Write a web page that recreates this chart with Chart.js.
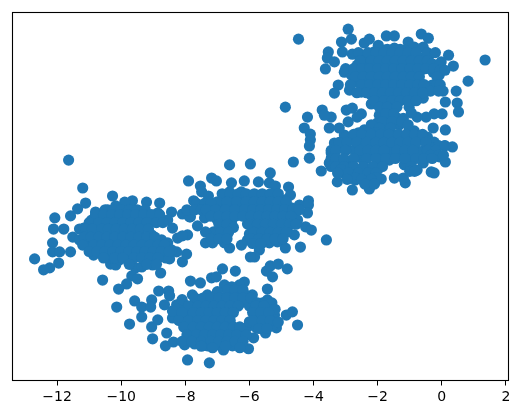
<!DOCTYPE html>
<html>
<head>
<meta charset="utf-8">
<style>html,body{margin:0;padding:0;background:#fff}canvas{display:block}</style>
<script src="https://cdn.jsdelivr.net/npm/chart.js@4"></script>
</head>
<body>
<canvas id="c" width="525" height="418"></canvas>
<script>
const xTicks = [-12,-10,-8,-6,-4,-2,0,2];
const clusterLeft = [[-11.64,1.15],[-11.2,.28],[-10.27,.03],[-11.11,-.19],[-11.36,-.37],[-11.58,-.59],[-12.07,-.65],[-11.79,-1],[-12.11,-1],[-12.14,-1.43],[-12.14,-1.71],[-11.92,-1.71],[-11.95,-2.06],[-12.7,-1.93],[-12.23,-2.21],[-12.42,-2.27],[-11.58,-1.71],[-11.51,-1.25],[-11.3,-1],[-10.8,-.47],[-9.65,-.12],[-9.89,-.16],[-9.21,-.16],[-8.8,-.19],[-8.43,-.47],[-8.09,-.53],[-7.84,-.62],[-10.86,-1.81],[-10.33,-2.09],[-10.17,-2.12],[-9.83,-1.9],[-9.02,-2.12],[-9.55,-2.21],[-9.36,-2.18],[-9.67,-2.46],[-9.49,-2.55],[-9.83,-2.71],[-10.08,-2.87],[-10.58,-2.59],[-8.77,-2.37],[-8.49,-1.93],[-8.09,-2.02],[-7.96,-1.78],[-8.27,-1.71],[-8.24,-1.28],[-8.4,-.97],[-7.93,-1.18],[-8.09,-1.21],
[-10.92,-.72],[-10.67,-.56],[-10.42,-.4],[-10.17,-.28],[-9.92,-.47],[-9.67,-.4],[-9.43,-.47],[-10.8,-.97],[-10.55,-.87],[-10.3,-.72],[-10.05,-.78],[-9.8,-.72],[-9.55,-.78],[-9.3,-.9],[-11.05,-1.18],[-10.8,-1.28],[-10.55,-1.18],[-10.3,-1.09],[-10.05,-1.09],[-9.8,-1.09],[-9.55,-1.09],[-10.98,-1.5],[-10.73,-1.56],[-10.49,-1.5],[-10.24,-1.4],[-9.99,-1.4],[-9.74,-1.4],[-9.49,-1.34],[-9.24,-1.28],[-9.05,-1.18],[-10.67,-1.74],[-10.42,-1.71],[-10.17,-1.71],[-9.92,-1.59],[-9.67,-1.65],[-9.43,-1.59],[-9.18,-1.53],[-8.93,-1.46],[-8.74,-1.34],[-10.3,-1.9],[-10.05,-1.96],[-9.74,-1.9],[-9.49,-1.84],[-9.24,-1.81],[-8.99,-1.71],[-8.8,-1.65],[-8.61,-1.9],[-8.96,-.78],[-8.86,-.5],[-9.11,-.59],[-8.55,-.72],[-8.55,-1.43],[-8.43,-1.65],[-11.3,-1.34],[-11.17,-.97]];
const clusterMiddle = [[-7.9,.5],[-6.62,1],[-5.97,1.03],[-7.18,.59],[-7.03,.5],[-7.53,.34],[-7.49,.16],[-7.28,.03],[-7.74,-.12],[-6.56,.44],[-6.16,.5],[-5.72,.47],[-5.38,.44],[-5.19,.34],[-5.35,.75],[-4.78,.31],[-4.72,.06],[-4.16,-.12],[-4.44,-.25],[-4.16,-.25],[-4.19,-.5],[-4.63,-.56],[-4.25,-.93],[-4.07,-1.03],[-3.6,-1.34],[-4.6,-1.18],[-4.82,-1],[-4.41,-1.56],[-4.88,-1.59],[-5.13,-1.4],[-5.59,-1.43],[-5.69,-1.65],[-5.84,-1.87],[-5.97,-1.87],[-6.62,-1.59],[-6.25,-1.5],[-7.15,-1.43],[-7.37,-1.43],[-7.62,-.9],[-7.87,-.62],[-6.62,.16],[-6.25,.16],
[-7.09,-.25],[-6.78,-.09],[-6.47,-.03],[-6.16,-.03],[-5.84,.03],[-5.53,.03],[-5.22,.03],[-4.91,-.09],[-7.18,-.5],[-6.87,-.4],[-6.56,-.31],[-6.25,-.25],[-5.63,-.25],[-5.32,-.25],[-5,-.34],[-4.69,-.34],[-7.4,-.65],[-7,-.72],[-6.69,-.65],[-6.37,-.56],[-6.06,-.53],[-5.75,-.53],[-5.44,-.53],[-5.13,-.59],[-4.82,-.65],[-4.5,-.72],[-6.78,-.97],[-6.56,-.78],[-6.06,-.84],[-5.75,-.84],[-5.44,-.84],[-5.13,-.9],[-6.87,-1.21],[-7.12,-1.09],[-7.37,-1.09],[-6,-1.15],[-5.69,-1.15],[-5.38,-1.15],[-5.07,-1.09],[-6.06,-1.34],[-6.78,-1.43],[-5.38,-1.43],[-4.75,-.78]];
const clusterBottom = [[-6.84,-2.24],[-6.44,-2.31],[-5.47,-2.31],[-5.35,-2.15],[-5.1,-2.09],[-4.82,-2.24],[-5.28,-2.49],[-7.84,-2.62],[-7.53,-2.68],[-7.18,-2.52],[-7.03,-2.49],[-6.78,-2.74],[-6.16,-2.65],[-6.31,-2.74],[-5.44,-2.87],[-5.91,-3.05],[-8.83,-2.93],[-8.52,-2.93],[-8.49,-3.08],[-9.05,-3.21],[-9.58,-3.24],[-10.14,-3.43],[-9.36,-3.43],[-9.08,-3.43],[-9.36,-3.74],[-9.74,-3.96],[-8.86,-3.83],[-9.05,-4.05],[-9.02,-4.42],[-8.58,-4.24],[-8.62,-4.64],[-8.37,-4.52],[-7.93,-5.08],[-7.25,-5.17],[-6.81,-4.77],[-6.53,-4.64],[-6.03,-4.73],[-5.87,-4.39],[-5.5,-4.24],[-5.16,-4.08],[-5.28,-3.99],[-4.5,-3.99],[-4.85,-3.68],[-4.66,-3.58],[-5.44,-3.21],[-5.59,-3.3],[-8.27,-3.36],[-8.65,-3.36],[-7.78,-3.05],[-7.31,-3.05],[-8.4,-3.77],[-8.02,-4.61],[-7.71,-4.58],[-7.31,-4.64],[-7.03,-4.61],[-6.25,-4.39],[-6.06,-4.05],[-5.78,-4.08],
[-8.02,-3.36],[-7.71,-3.3],[-7.4,-3.27],[-7.09,-3.21],[-6.78,-3.15],[-6.47,-3.08],[-6.16,-3.02],[-8.18,-3.68],[-7.87,-3.61],[-7.56,-3.58],[-7.25,-3.52],[-6.93,-3.46],[-6.62,-3.4],[-6.31,-3.33],[-6,-3.4],[-8.02,-3.99],[-7.71,-3.89],[-7.4,-3.83],[-7.09,-3.77],[-6.78,-3.71],[-6.62,-3.64],[-7.87,-4.24],[-7.56,-4.21],[-7.25,-4.08],[-6.93,-4.02],[-6.62,-3.96],[-6.31,-4.14],[-7.62,-4.45],[-7.31,-4.39],[-7,-4.33],[-6.69,-4.27],[-6.44,-4.21],[-6.93,-4.52],[-6.62,-4.52],[-5.84,-3.52],[-5.63,-3.68],[-5.44,-3.52],[-5.22,-3.68],[-6,-3.89],[-5.75,-3.83]];
const clusterTop = [[-4.47,4.92],[-2.92,5.23],[-3.13,4.83],[-2.82,4.92],[-3.54,4.52],[-3.57,4.33],[-3.35,4.21],[-3.63,3.99],[-3.1,4.52],[-2.79,4.45],[-2.42,4.8],[-2.26,4.92],[-1.98,4.73],[-1.73,5.02],[-1.48,5.02],[-1.05,4.83],[-.64,5.08],[-.42,4.95],[-.86,4.67],[-.58,4.67],[-.64,4.33],[.21,4.42],[-.02,4.21],[.36,4.08],[1.35,4.27],[.82,3.61],[.45,3.3],[.04,3.3],[-.3,3.49],[-.08,3.8],[-.58,3.08],[-1.02,2.8],[.48,2.93],[.11,2.96],[.52,2.65],[.01,2.59],[-.24,2.59],[-.49,2.49],[-.77,2.49],[-.95,2.62],[-.27,2.15],[.11,2.09],[-.45,1.87],[-.24,1.71],[.08,1.59],[.33,1.56],[-.08,1.25],[.11,1.09],[-.58,1.06],[-.77,.84],[-.33,.78],[-.24,.75],[-1.14,.44],[-1.2,.59],[-1.48,.59],[-1.89,.56],[-2.26,.25],[-2.79,.22],[-3.26,.47],[-2.51,.59],[-3.07,.75],[-3.76,.81],[-3.51,1.06],[-3.45,1.37],[-3.35,1.68],[-3.51,2.15],[-3.45,2.49],[-3.73,2.71],[-3.66,2.55],[-2.98,2.71],[-2.79,2.77],[-2.51,2.59],[-2.64,2.49],[-2.92,2.34],[-2.01,2.31],[-4.19,2.49],[-4.29,2.15],[-4.1,1.96],[-4.1,1.78],[-4.13,1.59],[-4.13,1.21],[-4.63,1.09],[-4.88,2.8],[-2.2,2.9],[-3.23,3.49],[-3.35,3.24],[-2.88,3.33],[-3.04,3.89],[-1.39,2.46],[-1.64,2.55],[-.86,2.06],
[-2.42,4.42],[-2.11,4.52],[-1.79,4.58],[-1.48,4.64],[-1.17,4.58],[-.86,4.42],[-.39,4.42],[-2.64,4.11],[-2.32,4.21],[-2.01,4.27],[-1.7,4.27],[-1.39,4.27],[-1.08,4.27],[-.77,4.11],[-.45,4.02],[-2.82,3.8],[-2.2,3.89],[-1.89,3.71],[-1.58,3.89],[-1.26,3.96],[-.95,3.89],[-.64,3.96],[-.27,3.89],[-2.64,3.58],[-2.32,3.49],[-2.01,3.4],[-1.7,3.49],[-1.39,3.58],[-1.08,3.49],[-.77,3.49],[-.45,3.4],[-2.51,3.27],[-2.2,3.18],[-1.89,3.08],[-1.58,3.18],[-1.26,3.18],[-.95,3.18],[-1.79,2.77],[-1.64,2.96],[-1.95,2.55],[-1.64,2.24],[-1.48,1.93],
[-3.04,1.93],[-2.73,1.78],[-2.42,2.09],[-2.11,1.93],[-1.79,2.09],[-1.33,2.24],[-1.02,2.09],[-.7,1.78],[-3.04,1.53],[-2.73,1.46],[-2.42,1.62],[-2.11,1.62],[-1.79,1.62],[-1.48,1.71],[-1.17,1.71],[-.86,1.53],[-.55,1.46],[-3.13,1.15],[-2.82,1.09],[-2.51,1.21],[-2.2,1.31],[-1.89,1.21],[-1.58,1.4],[-1.26,1.31],[-.95,1.21],[-.7,1.4],[-.33,1.53],[-2.88,.78],[-2.57,.84],[-2.26,.84],[-1.95,.9],[-1.64,1.15],[-1.17,1],[-2.7,.53],[-2.32,.53],[-3.2,2.15]];
// Dense centres, one row per entry: the row's y, then the x of each point in it.
const coreLeft = [
[-.4,-10.5,-10.25,-10,-9.75,-9.5,-9.25],
[-.55,-10.8,-10.55,-10.3,-10.05,-9.8,-9.55,-9.3,-9.05,-8.8],
[-.8,-11,-10.7,-10.45,-10.2,-9.95,-9.7,-9.45,-9.2,-8.9,-8.7],
[-1,-11.1,-10.9,-10.6,-10.4,-10.15,-9.9,-9.65,-9.4,-9.15],
[-1.25,-11.15,-10.95,-10.7,-10.45,-10.2,-9.95,-9.7,-9.45,-9.2,-8.95],
[-1.5,-11.2,-10.85,-10.6,-10.35,-10.1,-9.85,-9.6,-9.35,-9.1,-8.85,-8.65],
[-1.7,-11,-10.75,-10.5,-10.25,-10,-9.75,-9.5,-9.25,-9,-8.75,-8.5],
[-1.9,-10.55,-10.2,-9.95,-9.6,-9.35,-9.1,-8.85],
[-2.1,-9.75,-9.2,-8.9]];
const coreMiddle = [
[.1,-6.85,-6.6,-6.35,-6.1,-5.85,-5.6,-5.35,-5.1],
[-.15,-7,-6.7,-6.4,-6.1,-5.85,-5.6,-5.35,-5.1,-4.85],
[-.2,-7.65,-7.4,-7.2],
[-.4,-7.95,-7.7,-7.5,-7.35,-7.05,-6.75,-6.45,-6.15,-5.9,-5.65,-5.4,-5.15,-4.9,-4.65,-4.45],
[-.6,-7.2,-6.95,-6.7,-6.45,-6.2,-5.95,-5.7,-5.45,-5.2,-4.95,-4.7],
[-.85,-6.95,-6.7,-6,-5.75,-5.5,-5.25,-5,-4.75,-4.55],
[-.95,-6.5],
[-1.1,-6.9,-6.65,-5.85,-5.6,-5.35,-5.1,-4.85],
[-1.3,-7.2,-6.95,-6.7,-5.95,-5.7,-5.45,-5.2,-4.95],
[-1.45,-5.9,-5.65]];
const coreBottom = [
[-2.8,-6.55],
[-2.9,-6.7,-6.45,-6.2],
[-2.95,-7],
[-3.15,-7.7,-7.45,-7.2,-6.95,-6.7,-6.45,-6.2,-5.95],
[-3.2,-8.1],
[-3.3,-5.75,-5.5,-5.3],
[-3.4,-7.9,-7.6,-7.35,-7.1,-6.85,-6.6,-6.35,-5.8,-5.55],
[-3.5,-5.2],
[-3.55,-8.4],
[-3.6,-8.1,-7.75,-7.5,-7.25,-7,-6.75,-6.5,-5.9,-5.65,-5.4],
[-3.85,-8.2,-7.9,-7.6,-7.35,-7.1,-6.85,-6.6,-5.9,-5.6,-5.35],
[-3.9,-5.1],
[-4.05,-8.05,-7.75,-7.5,-7.25,-7,-6.75,-6.5,-6.3],
[-4.1,-5.7,-5.45],
[-4.3,-7.95,-7.65,-7.4,-7.15,-6.9,-6.65,-6.4,-6.1],
[-4.5,-8.1,-7.8,-7.5,-7.2,-6.95,-6.7,-6.45,-6.2],
[-4.65,-7.5,-6.75],
[-4.7,-7.15,-6.3]];
const coreTop = [
[4.6,-2,-1.7,-1.3],
[4.5,-2.6,-2.3,-2.05,-1.8,-1.55,-1.3,-1.05,-.8,-.45,-.2],
[4.25,-2.55,-2.2,-1.95,-1.7,-1.45,-1.2,-.95,-.7,-.45],
[4.15,-.3,-.05],
[4,-3,-2.75,-2.5,-2.25,-2,-1.75,-1.5,-1.25,-1,-.75,-.5,-.25],
[3.95,-.05,.1],
[3.75,-2.7,-2.45,-2.2,-1.95,-1.7,-1.45,-1.2,-.95,-.7,-.15],
[3.5,-2.85,-2.5,-2.25,-2,-1.75,-1.5,-1.25,-1,-.75,-.55,-.15,-.05],
[3.3,-.35,-.1],
[3.25,-2.65,-2.35,-2.1,-1.85,-1.6,-1.35,-1.1,-.85,-.6],
[3,-2.1,-1.8,-1.55,-1.3,-1.05,-.8],
[2.8,-1.95,-1.7,-1.4],
[2.6,-1.75,-1.5],
[2.45,-1.2],
[2.35,-1.85,-1.55,-1.25],
[2.25,-2.2,-1.05],
[2.15,-1.95,-1.6],
[2,-2.6,-2.3,-2.05],
[1.95,-2.75,-2.5,-2.2,-1.9,-1.65,-1.35,-1.1,-.85,-.6],
[1.7,-3.2,-2.95,-2.65,-2.35,-2.05,-1.8,-1.55,-1.3,-1.05,-.8,-.5],
[1.6,-.1,.1],
[1.45,-3.45,-3.3,-3,-2.55,-2.3,-2.05,-1.8,-1.4,-1.15,-.9,-.45,-.2],
[1.3,-.35,-.1,.05],
[1.2,-3.45,-3.3,-3.05,-2.75,-2.35,-2.05,-1.75,-1.45,-1.15,-.8,-.55,-.3],
[.95,-3.45,-3.3,-3.05,-2.75,-2.45,-2.15,-1.85,-.95],
[.85,-3.15],
[.8,-1,-.85],
[.75,-3.25,-2.9,-2.6,-2.3,-2.05],
[.6,-2.7,-2.05],
[.55,-2.95,-2.5,-2.2],
[.4,-2.4,-2.1]];

const fromPairs = list => list.map(([x,y]) => ({x,y}));
const fromRows = rows => rows.flatMap(([y,...xs]) => xs.map(x => ({x,y})));
const allPoints = [clusterLeft,clusterMiddle,clusterBottom,clusterTop].flatMap(fromPairs)
  .concat([coreLeft,coreMiddle,coreBottom,coreTop].flatMap(fromRows));
const framePlugin = {
  id: 'frame',
  afterDatasetsDraw(chart) {
    const a = chart.chartArea, ctx = chart.ctx;
    ctx.save();
    ctx.strokeStyle = '#000';
    ctx.lineWidth = 1.1;
    ctx.strokeRect(a.left, a.top, a.right-a.left, a.bottom-a.top);
    ctx.restore();
  }
};
new Chart(document.getElementById('c'), {
  type: 'scatter',
  data: { datasets: [{ data: allPoints, backgroundColor: '#1f77b4', borderColor: '#1f77b4', borderWidth: 0, pointRadius: 5.6 }] },
  options: {
    responsive: false, animation: false,
    layout: { padding: { left: 12.5, right: 16.5, top: 12.5, bottom: 0 } },
    plugins: { legend: { display: false }, tooltip: { enabled: false } },
    scales: {
      x: {
        type: 'linear', min: -13.39, max: 2.08,
        afterBuildTicks(s) { s.ticks = xTicks.map(v => ({ value: v })); },
        afterFit(s) { s.height = 37.5; },
        grid: { drawOnChartArea: false, drawTicks: true, tickLength: 5, color: '#000', lineWidth: 1 },
        border: { display: false },
        ticks: {
          autoSkip: false, maxRotation: 0, color: '#000', padding: 3,
          font: { family: 'DejaVu Sans', size: 14 },
          callback: v => String(v).replace('-', '\u2212')
        }
      },
      y: { type: 'linear', min: -5.72, max: 5.75, display: false }
    }
  },
  plugins: [framePlugin]
});
</script>
</body>
</html>
